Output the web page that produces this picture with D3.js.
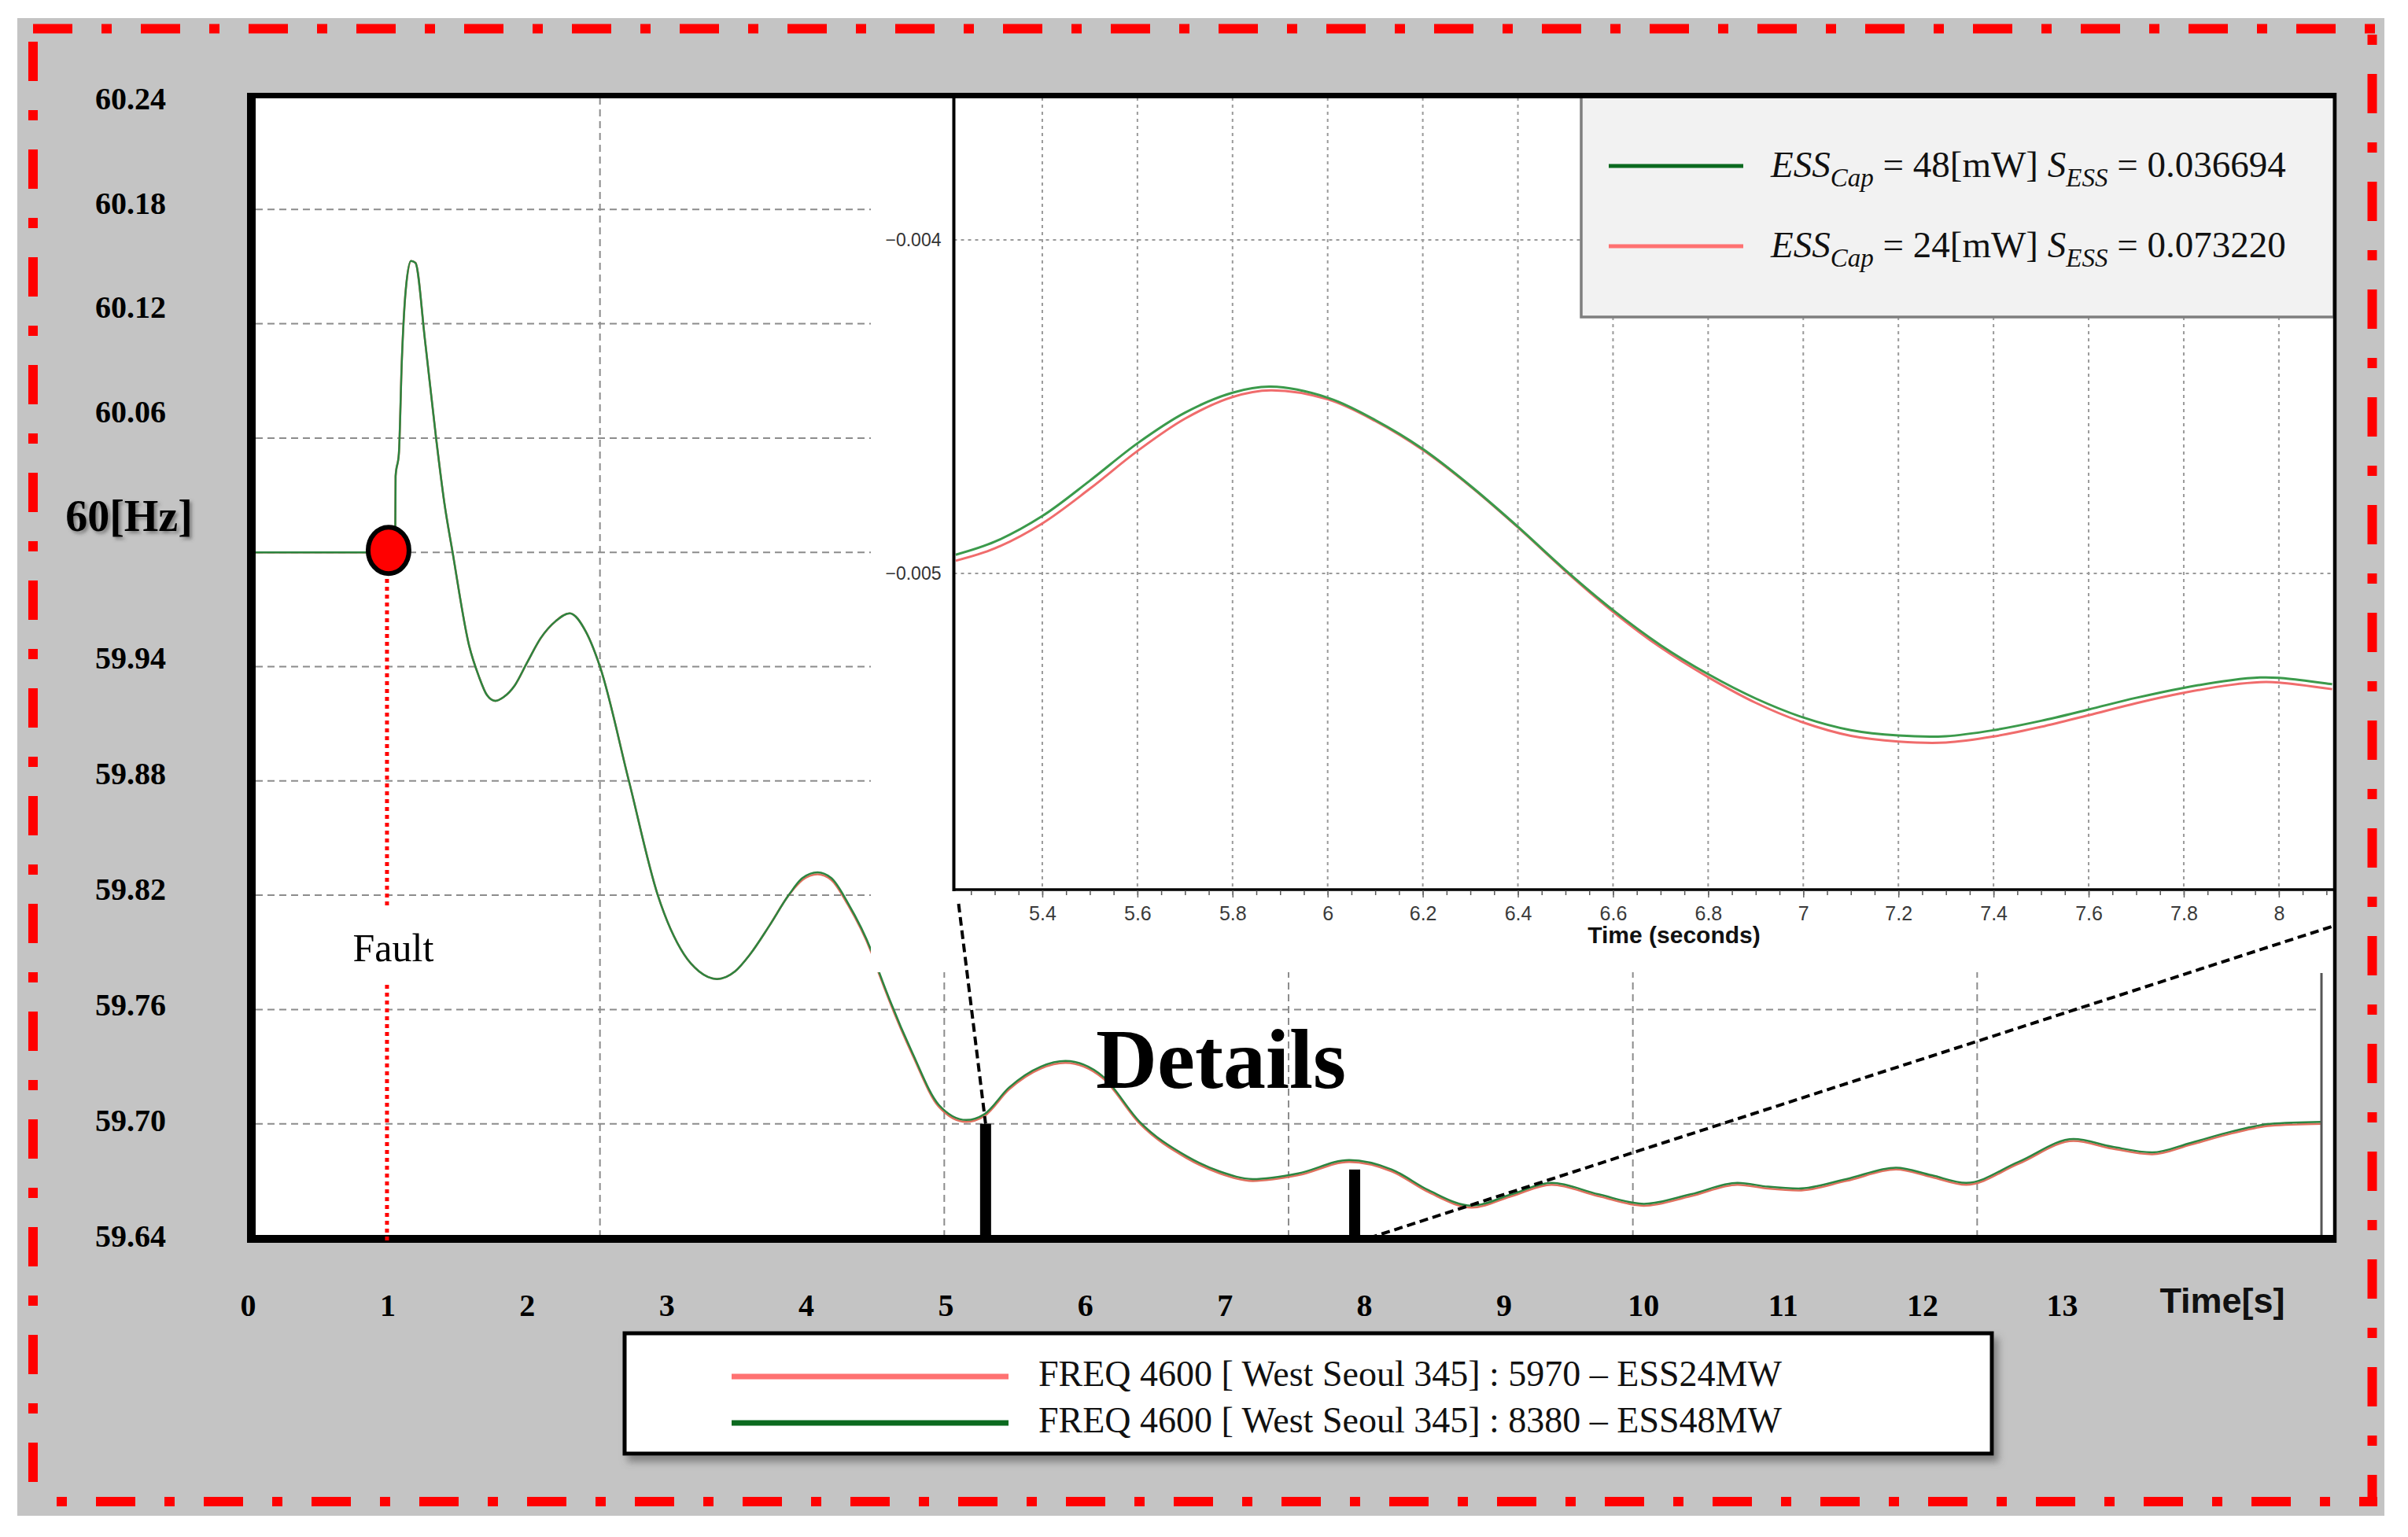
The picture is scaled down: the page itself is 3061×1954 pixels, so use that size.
<!DOCTYPE html>
<html>
<head>
<meta charset="utf-8">
<script src="https://cdn.jsdelivr.net/npm/d3@7"></script>
<style>
  html, body { margin: 0; padding: 0; background: #ffffff; }
  svg { display: block; }
</style>
</head>
<body>
<svg id="chart" width="3061" height="1954"></svg>
<script>
// ---------------- DATA ----------------
// Main plot: frequency at bus 4600 (West Seoul 345) [Hz] vs time [s]
const mainTime = [0, 0.6, 0.85, 0.9, 0.97, 1.013, 1.016, 1.04, 1.061, 1.09, 1.128, 1.16, 1.23, 1.31, 1.37, 1.43,
  1.55, 1.62, 1.68, 1.74, 1.80, 1.88, 1.97, 2.07, 2.18, 2.28, 2.40, 2.50, 2.71, 2.92, 3.11, 3.22, 3.35, 3.48, 3.59,
  3.73, 3.87, 3.97, 4.08, 4.18, 4.30, 4.47, 4.53, 4.77, 4.96, 5.16, 5.29, 5.47, 5.70, 5.88, 6.15, 6.42, 6.76, 7.00,
  7.24, 7.57, 7.94, 8.25, 8.52, 8.83, 9.12, 9.41, 9.75, 10.08, 10.42, 10.76, 10.98, 11.20, 11.55, 11.91, 12.17,
  12.42, 12.80, 13.20, 13.48, 13.77, 14.05, 14.35, 14.63, 15.0];
const freqESS48 = [60.000, 60.000, 60.000, 60.002, 60.002, 60.002, 60.040, 60.052, 60.100, 60.138, 60.153, 60.152,
  60.111, 60.060, 60.026, 60.000, 59.951, 59.935, 59.925, 59.922, 59.924, 59.930, 59.942, 59.955, 59.964, 59.968,
  59.958, 59.940, 59.880, 59.820, 59.789, 59.780, 59.776, 59.780, 59.789, 59.804, 59.820, 59.829, 59.832, 59.829,
  59.816, 59.791, 59.779, 59.737, 59.710, 59.702, 59.705, 59.719, 59.730, 59.733, 59.725, 59.701, 59.683, 59.675,
  59.671, 59.674, 59.681, 59.676, 59.665, 59.657, 59.663, 59.669, 59.663, 59.658, 59.663, 59.669, 59.667, 59.666,
  59.671, 59.677, 59.673, 59.669, 59.680, 59.692, 59.688, 59.685, 59.690, 59.696, 59.700, 59.701];
const freqESS24 = [60.000, 60.000, 60.000, 60.002, 60.002, 60.002, 60.040, 60.052, 60.100, 60.138, 60.153, 60.152,
  60.111, 60.060, 60.026, 60.000, 59.951, 59.935, 59.925, 59.922, 59.924, 59.930, 59.942, 59.955, 59.964, 59.968,
  59.958, 59.940, 59.880, 59.820, 59.789, 59.780, 59.776, 59.780, 59.789, 59.804, 59.820, 59.828, 59.831, 59.828,
  59.815, 59.790, 59.778, 59.736, 59.709, 59.701, 59.704, 59.718, 59.729, 59.732, 59.724, 59.700, 59.682, 59.674,
  59.670, 59.673, 59.680, 59.675, 59.664, 59.656, 59.662, 59.668, 59.662, 59.657, 59.662, 59.668, 59.666, 59.665,
  59.670, 59.676, 59.672, 59.668, 59.679, 59.691, 59.687, 59.684, 59.689, 59.695, 59.699, 59.700];

const yTickValues = [60.24, 60.18, 60.12, 60.06, 60.00, 59.94, 59.88, 59.82, 59.76, 59.70, 59.64];
const yTickLabels = ["60.24", "60.18", "60.12", "60.06", "60[Hz]", "59.94", "59.88", "59.82", "59.76", "59.70", "59.64"];
const yGridValues = [60.18, 60.12, 60.06, 60.00, 59.94, 59.88, 59.82, 59.76, 59.70];
const xTickValues = [0, 1, 2, 3, 4, 5, 6, 7, 8, 9, 10, 11, 12, 13];
const xGridValues = [2.5, 5, 7.5, 10, 12.5];
const xAxisTitle = "Time[s]";

const faultTime = 0.965;
const faultValue = 60.0;
const faultLabel = "Fault";
const detailTimes = [5.30, 7.98];
const detailTops = [59.700, 59.676];
const detailLabel = "Details";

// Inset (zoomed detail, deviation in per-unit)
const insetTime = [5.218, 5.3, 5.4, 5.5, 5.6, 5.7, 5.8, 5.88, 6.0, 6.1, 6.2, 6.3, 6.4, 6.5, 6.6, 6.7, 6.8, 6.9,
  7.0, 7.1, 7.2, 7.3, 7.4, 7.5, 7.6, 7.7, 7.8, 7.9, 7.96, 8.0, 8.112];
const insetESS48 = [-0.004944, -0.004905, -0.004828, -0.004722, -0.004610, -0.004518, -0.004458, -0.004440,
  -0.004473, -0.004540, -0.004627, -0.004737, -0.004860, -0.004990, -0.005110, -0.005215, -0.005302, -0.005375,
  -0.005432, -0.005470, -0.005486, -0.005488, -0.005470, -0.005442, -0.005408, -0.005373, -0.005343, -0.005320,
  -0.005312, -0.005313, -0.005332];
const insetESS24 = [-0.004962, -0.004925, -0.004850, -0.004746, -0.004633, -0.004536, -0.004471, -0.004451,
  -0.004478, -0.004543, -0.004630, -0.004739, -0.004862, -0.004993, -0.005115, -0.005222, -0.005311, -0.005388,
  -0.005447, -0.005487, -0.005504, -0.005507, -0.005489, -0.005460, -0.005425, -0.005389, -0.005358, -0.005334,
  -0.005326, -0.005327, -0.005347];
const insetXTicks = [5.4, 5.6, 5.8, 6.0, 6.2, 6.4, 6.6, 6.8, 7.0, 7.2, 7.4, 7.6, 7.8, 8.0];
const insetYTicks = [-0.004, -0.005];
const insetXTitle = "Time (seconds)";
const insetLegendCap = ["48", "24"];
const insetLegendS = ["0.036694", "0.073220"];

const legendLabels = ["FREQ 4600 [ West Seoul 345] : 5970 \u2013 ESS24MW",
                      "FREQ 4600 [ West Seoul 345] : 8380 \u2013 ESS48MW"];

// ---------------- STYLE ----------------
const SERIF = "'Liberation Serif', 'Times New Roman', serif";
const SANS = "'Liberation Sans', Arial, sans-serif";
const GREEN_MAIN = "#2b8540", RED_MAIN = "#e0705e";
const GREEN_IN = "#3b9a4b", RED_IN = "#f06c6c";
const GREEN_LEG = "#0b6a1f", RED_LEG = "#ff7272";

const svg = d3.select("#chart");
const defs = svg.append("defs");
const f1 = defs.append("filter").attr("id", "txtShadow").attr("x", "-20%").attr("y", "-20%").attr("width", "140%").attr("height", "160%");
f1.append("feDropShadow").attr("dx", 3).attr("dy", 3).attr("stdDeviation", 2).attr("flood-color", "#444").attr("flood-opacity", 0.55);
const f2 = defs.append("filter").attr("id", "boxShadow").attr("x", "-5%").attr("y", "-20%").attr("width", "110%").attr("height", "150%");
f2.append("feDropShadow").attr("dx", 6).attr("dy", 8).attr("stdDeviation", 5).attr("flood-color", "#555").attr("flood-opacity", 0.6);

// ---------------- SCALES ----------------
const x = d3.scaleLinear().domain([0, 15]).range([325, 2951]);
const y = d3.scaleLinear().domain([59.64, 60.24]).range([1574, 121]);
const yLabel = d3.scaleLinear().domain([59.64, 59.94, 60.0, 60.24]).range([1571, 836, 655, 125]);
const xLabel = d3.scaleLinear().domain([0, 13]).range([315, 2621]);
const ix = d3.scaleLinear().domain([5.214, 8.116]).range([1212.5, 2967]);
const iy = d3.scaleLinear().domain([-0.005, -0.004]).range([729, 305]);

// ---------------- BACKGROUND ----------------
svg.append("rect").attr("x", 0).attr("y", 0).attr("width", 3061).attr("height", 1954).attr("fill", "#ffffff");
svg.append("rect").attr("x", 22).attr("y", 23).attr("width", 3009).attr("height", 1904).attr("fill", "#c4c4c4");

const dash = "50,37,13,37";
const red = svg.append("g").attr("stroke", "#ff0000").attr("stroke-width", 12).attr("fill", "none").attr("stroke-dasharray", dash);
red.append("path").attr("d", "M42,36.5 H3022");
red.append("path").attr("d", "M42,53 V1915");
red.append("path").attr("d", "M3015.5,1915 V30").attr("stroke-dashoffset", 10);
red.append("path").attr("d", "M3022,1909 H36").attr("stroke-dashoffset", 27);

// ---------------- MAIN PLOT ----------------
svg.append("rect").attr("x", 325).attr("y", 124).attr("width", 2642).attr("height", 1448).attr("fill", "#ffffff");

const grid = svg.append("g").attr("stroke", "#8c8c8c").attr("stroke-width", 2).attr("stroke-dasharray", "9,6");
grid.selectAll("line.h").data(yGridValues).join("line").attr("class", "h")
  .attr("x1", x(0)).attr("x2", x(15)).attr("y1", d => y(d)).attr("y2", d => y(d));
grid.selectAll("line.v").data(xGridValues).join("line").attr("class", "v")
  .attr("x1", d => x(d)).attr("x2", d => x(d)).attr("y1", 124).attr("y2", 1570);

const mainLine = d3.line().x(d => x(d[0])).y(d => y(d[1])).curve(d3.curveMonotoneX);
svg.append("path").datum(mainTime.map((t, i) => [t, freqESS24[i]]))
  .attr("d", mainLine).attr("fill", "none").attr("stroke", RED_MAIN).attr("stroke-width", 2.6);
svg.append("path").datum(mainTime.map((t, i) => [t, freqESS48[i]]))
  .attr("d", mainLine).attr("fill", "none").attr("stroke", GREEN_MAIN).attr("stroke-width", 2.5);

// ---------------- INSET ----------------
svg.append("rect").attr("x", 1107).attr("y", 124).attr("width", 1860).attr("height", 1112).attr("fill", "#ffffff");

const ig = svg.append("g");
ig.selectAll("line.iv").data(insetXTicks).join("line").attr("class", "iv")
  .attr("x1", d => ix(d)).attr("x2", d => ix(d)).attr("y1", 124).attr("y2", 1129)
  .attr("stroke", "#9a9a9a").attr("stroke-width", 2).attr("stroke-dasharray", "4,5");
ig.selectAll("line.ih").data(insetYTicks).join("line").attr("class", "ih")
  .attr("x1", ix.range()[0]).attr("x2", ix.range()[1]).attr("y1", d => iy(d)).attr("y2", d => iy(d))
  .attr("stroke", "#9a9a9a").attr("stroke-width", 2).attr("stroke-dasharray", "4,5");

const inLine = d3.line().x(d => ix(d[0])).y(d => iy(d[1])).curve(d3.curveCatmullRom.alpha(0.5));
ig.append("path").datum(insetTime.map((t, i) => [t, insetESS24[i]]))
  .attr("d", inLine).attr("fill", "none").attr("stroke", RED_IN).attr("stroke-width", 3);
ig.append("path").datum(insetTime.map((t, i) => [t, insetESS48[i]]))
  .attr("d", inLine).attr("fill", "none").attr("stroke", GREEN_IN).attr("stroke-width", 3);

// inset frame
ig.append("line").attr("x1", 1212.5).attr("x2", 1212.5).attr("y1", 122).attr("y2", 1133).attr("stroke", "#000").attr("stroke-width", 4);
ig.append("line").attr("x1", 1211).attr("x2", 2968).attr("y1", 1131).attr("y2", 1131).attr("stroke", "#000").attr("stroke-width", 3.5);

// inset x axis (minor + major ticks, labels)
const minorTicks = d3.range(5.25, 8.116, 0.05);
const axMinor = d3.axisBottom(ix).tickValues(minorTicks).tickSize(6).tickFormat("");
const gMinor = ig.append("g").attr("transform", "translate(0,1132)").call(axMinor);
gMinor.select(".domain").remove();
gMinor.selectAll("line").attr("stroke", "#555").attr("stroke-width", 1.5);

const axMajor = d3.axisBottom(ix).tickValues(insetXTicks).tickSize(9).tickPadding(12)
  .tickFormat(d => String(+d.toFixed(1)));
const gMajor = ig.append("g").attr("transform", "translate(0,1132)").call(axMajor);
gMajor.select(".domain").remove();
gMajor.selectAll("line").attr("stroke", "#666").attr("stroke-width", 1.5);
gMajor.selectAll("text").attr("font-family", SANS).attr("font-size", 25).attr("fill", "#3a3a3a")
  .attr("y", 38).attr("dy", 0);

const axY = d3.axisLeft(iy).tickValues(insetYTicks).tickSize(0).tickPadding(16).tickFormat(d3.format(".3f"));
const gY = ig.append("g").attr("transform", "translate(1212.5,0)").call(axY);
gY.select(".domain").remove();
gY.selectAll("text").attr("font-family", SANS).attr("font-size", 23).attr("fill", "#333");

ig.append("text").attr("x", 2128).attr("y", 1199).attr("text-anchor", "middle")
  .attr("font-family", SANS).attr("font-weight", "bold").attr("font-size", 30).attr("fill", "#111")
  .text(insetXTitle);

// inset legend
const il = svg.append("g");
il.append("rect").attr("x", 2010).attr("y", 123).attr("width", 957).attr("height", 280)
  .attr("fill", "#f2f2f2").attr("stroke", "#7f7f7f").attr("stroke-width", 3.5);
const ilColors = [GREEN_LEG, RED_LEG];
const ilRowY = [211, 313];
ilRowY.forEach((ry, i) => {
  il.append("line").attr("x1", 2045).attr("x2", 2216).attr("y1", ry).attr("y2", ry)
    .attr("stroke", ilColors[i]).attr("stroke-width", 5);
  const t = il.append("text").attr("x", 2251).attr("y", ry + 14)
    .attr("font-family", SERIF).attr("font-size", 47).attr("fill", "#111");
  t.append("tspan").attr("font-style", "italic").text("ESS");
  t.append("tspan").attr("font-style", "italic").attr("font-size", 33).attr("dy", 12).text("Cap");
  t.append("tspan").attr("dy", -12).text(" = " + insetLegendCap[i] + "[mW] ");
  t.append("tspan").attr("font-style", "italic").text("S");
  t.append("tspan").attr("font-style", "italic").attr("font-size", 33).attr("dy", 12).text("ESS");
  t.append("tspan").attr("dy", -12).text(" = " + insetLegendS[i]);
});

// inner plot right edge (original plot border)
svg.append("line").attr("x1", x(15)).attr("x2", x(15)).attr("y1", 1237).attr("y2", 1572)
  .attr("stroke", "#555").attr("stroke-width", 3);

// ---------------- MAIN BORDERS ----------------
const bd = svg.append("g").attr("stroke", "#000");
bd.append("line").attr("x1", 319.5).attr("x2", 319.5).attr("y1", 118).attr("y2", 1580).attr("stroke-width", 11);
bd.append("line").attr("x1", 314).attr("x2", 2970).attr("y1", 121.5).attr("y2", 121.5).attr("stroke-width", 7);
bd.append("line").attr("x1", 314).attr("x2", 2970).attr("y1", 1575).attr("y2", 1575).attr("stroke-width", 10);
bd.append("line").attr("x1", 2968).attr("x2", 2968).attr("y1", 118).attr("y2", 1580).attr("stroke-width", 4.5);

// ---------------- DETAIL MARKERS ----------------
svg.selectAll("rect.detail").data(detailTimes).join("rect").attr("class", "detail")
  .attr("x", d => x(d) - 7).attr("width", 14)
  .attr("y", (d, i) => y(detailTops[i])).attr("height", (d, i) => 1580 - y(detailTops[i]))
  .attr("fill", "#000");
const conn = svg.append("g").attr("stroke", "#000").attr("stroke-width", 4).attr("stroke-dasharray", "11,6").attr("fill", "none");
conn.append("line").attr("x1", ix(5.224)).attr("y1", 1149).attr("x2", x(detailTimes[0])).attr("y2", y(detailTops[0]));
conn.append("line").attr("x1", x(detailTimes[1]) + 18).attr("y1", 1574).attr("x2", ix.range()[1]).attr("y2", 1177);

svg.append("text").attr("x", 1393).attr("y", 1383)
  .attr("font-family", SERIF).attr("font-weight", "bold").attr("font-size", 108).attr("fill", "#000")
  .text(detailLabel);

// ---------------- FAULT MARK ----------------
const fx = x(faultTime);
const fdot = svg.append("g").attr("stroke", "#ff0000").attr("stroke-width", 5).attr("stroke-dasharray", "5,5");
fdot.append("line").attr("x1", fx - 2).attr("x2", fx - 2).attr("y1", 736).attr("y2", 1152);
fdot.append("line").attr("x1", fx - 2).attr("x2", fx - 2).attr("y1", 1252).attr("y2", 1578);
svg.append("ellipse").attr("cx", fx).attr("cy", y(faultValue) - 2.5).attr("rx", 26).attr("ry", 29.5)
  .attr("fill", "#ff0000").attr("stroke", "#000").attr("stroke-width", 6);
svg.append("text").attr("x", fx + 6).attr("y", 1222).attr("text-anchor", "middle")
  .attr("font-family", SERIF).attr("font-size", 50).attr("fill", "#000").text(faultLabel);

// ---------------- MAIN AXIS LABELS ----------------
const axL = d3.axisLeft(yLabel).tickValues(yTickValues).tickSize(0).tickFormat((d, i) => yTickLabels[i]);
const gL = svg.append("g").attr("transform", "translate(166,0)").call(axL);
gL.select(".domain").remove();
gL.selectAll("text").attr("x", 0).attr("text-anchor", "middle").attr("dy", "0.34em")
  .attr("font-family", SERIF).attr("font-weight", "bold").attr("font-size", 40).attr("fill", "#000");
gL.selectAll("text").filter(d => d === 60.0).attr("font-size", 56).attr("filter", "url(#txtShadow)").attr("x", -2);

const axB = d3.axisBottom(xLabel).tickValues(xTickValues).tickSize(0).tickFormat(d3.format("d"));
const gB = svg.append("g").attr("transform", "translate(0,1673)").call(axB);
gB.select(".domain").remove();
gB.selectAll("text").attr("y", 0).attr("dy", 0)
  .attr("font-family", SERIF).attr("font-weight", "bold").attr("font-size", 40).attr("fill", "#000");

svg.append("text").attr("x", 2825).attr("y", 1669).attr("text-anchor", "middle")
  .attr("font-family", SANS).attr("font-weight", "bold").attr("font-size", 45).attr("fill", "#111")
  .text(xAxisTitle);

// ---------------- BOTTOM LEGEND ----------------
const lg = svg.append("g");
lg.append("rect").attr("x", 794).attr("y", 1695).attr("width", 1738).attr("height", 153)
  .attr("fill", "#ffffff").attr("stroke", "#000").attr("stroke-width", 5).attr("filter", "url(#boxShadow)");
const lgColors = [RED_LEG, GREEN_LEG];
const lgRowY = [1750, 1809];
lgRowY.forEach((ry, i) => {
  lg.append("line").attr("x1", 930).attr("x2", 1282).attr("y1", ry).attr("y2", ry)
    .attr("stroke", lgColors[i]).attr("stroke-width", 7);
  lg.append("text").attr("x", 1320).attr("y", ry + 12)
    .attr("font-family", SERIF).attr("font-size", 46).attr("fill", "#111").text(legendLabels[i]);
});
</script>
</body>
</html>
